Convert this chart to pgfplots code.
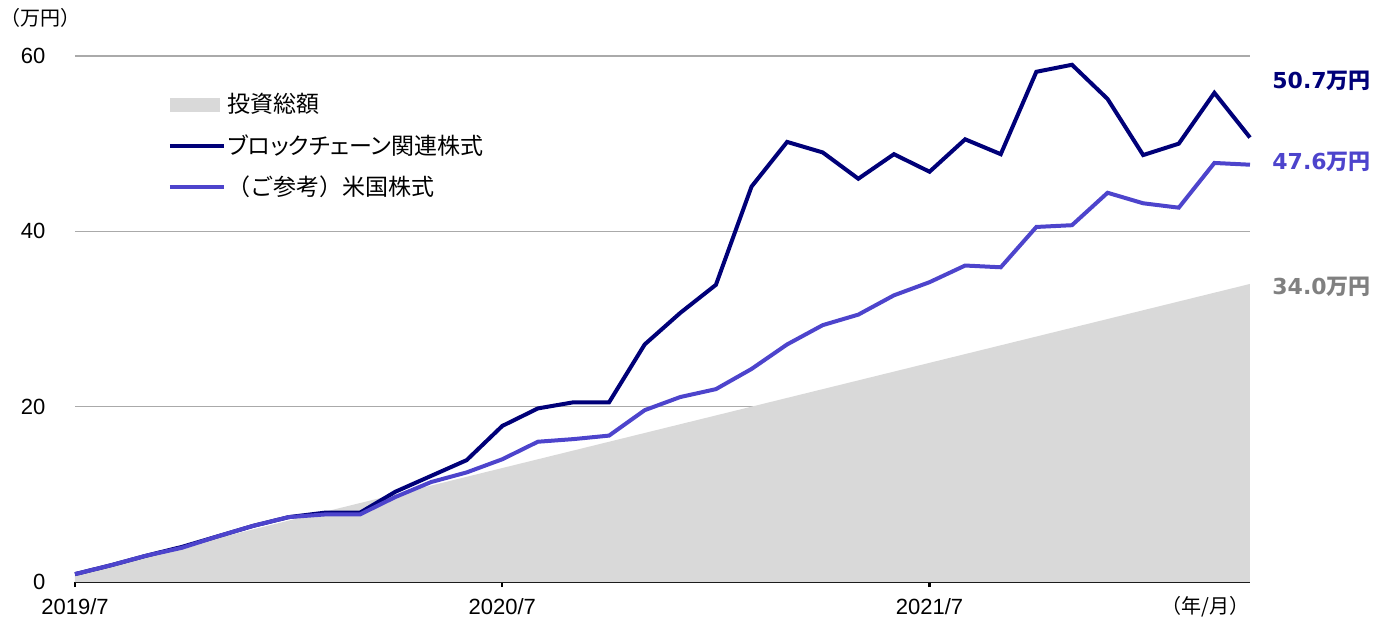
\documentclass[border=0pt]{standalone}
\usepackage{fontspec}
\setmainfont{Liberation Sans}
\newfontfamily\jp{Noto Sans CJK JP}
\newfontfamily\jpp[RawFeature=+palt]{Noto Sans CJK JP}
\newfontfamily\dv{DejaVu Sans}
\usepackage{pgfplots}
\pgfplotsset{compat=1.18}
\definecolor{navy}{RGB}{0,0,120}
\definecolor{usc}{RGB}{77,68,204}
\definecolor{areac}{RGB}{217,217,217}
\definecolor{lblgray}{RGB}{128,128,128}
\pgfplotstableread{
i inv bc us
0 1 0.9 0.9
1 2 1.9 1.9
2 3 3.0 3.0
3 4 4.0 3.9
4 5 5.2 5.2
5 6 6.4 6.4
6 7 7.4 7.4
7 8 7.9 7.7
8 9 7.9 7.7
9 10 10.3 9.7
10 11 12.1 11.4
11 12 13.9 12.5
12 13 17.8 14.0
13 14 19.8 16.0
14 15 20.5 16.3
15 16 20.5 16.7
16 17 27.1 19.6
17 18 30.7 21.1
18 19 33.9 22.0
19 20 45.1 24.3
20 21 50.2 27.1
21 22 49.0 29.3
22 23 46.0 30.5
23 24 48.8 32.7
24 25 46.8 34.2
25 26 50.5 36.1
26 27 48.8 35.9
27 28 58.2 40.5
28 29 59.0 40.7
29 30 55.1 44.4
30 31 48.7 43.2
31 32 50.0 42.7
32 33 55.8 47.8
33 34 50.7 47.6
}\datatable
\begin{document}
\begin{tikzpicture}
\useasboundingbox (-37.5pt,-20pt) rectangle (654pt,291pt);
\begin{axis}[
  at={(0,0)}, anchor=south west,
  scale only axis, width=587.5pt, height=263pt,
  xmin=0, xmax=33, ymin=0, ymax=60,
  clip=false,
  axis x line*=bottom, axis y line*=left,
  x axis line style={black, line width=1.4pt},
  y axis line style={draw=none},
  xtick={0,12,24}, xticklabels={2019/7,2020/7,2021/7},
  ytick={0,20,40,60},
  tick align=outside, major tick length=2.5pt,
  xtick style={black, line width=1.2pt},
  ytick style={draw=none},
  ymajorgrids, grid style={draw={rgb,255:red,170;green,170;blue,170}, line width=0.6pt},
  /pgf/number format/assume math mode=true,
  tick label style={font=\fontsize{11}{13}\selectfont},
  xticklabel style={yshift=-2pt},
  yticklabel style={xshift=-8.8pt},
  legend style={at={(axis cs:2.6,56.0)}, anchor=north west, draw=none, fill=none,
    inner sep=0pt, row sep=7.3pt, font=\jp\fontsize{11.5}{13.8}\selectfont,
    cells={anchor=west}, nodes={inner sep=1pt}},
]
\addplot[fill=areac, draw=none,
  legend image code/.code={\fill[areac] (0pt,-3.5pt) rectangle (25pt,3.5pt);}]
  table[x=i,y=inv]{\datatable} \closedcycle;
\addlegendentry{投資総額}
\addplot[navy, line width=2pt, line join=miter,
  legend image code/.code={\draw[navy, line width=2pt] (0pt,0pt) -- (27pt,0pt);}]
  table[x=i,y=bc]{\datatable};
\addlegendentry{\jpp ブロックチェーン関連株式}
\addplot[usc, line width=2pt, line join=miter,
  legend image code/.code={\draw[usc, line width=2pt] (0pt,0pt) -- (27pt,0pt);}]
  table[x=i,y=us]{\datatable};
\addlegendentry{（ご参考）米国株式}
\node[anchor=west, inner sep=0pt, text=navy, font=\fontsize{11}{13}\selectfont] at ([xshift=11pt]axis cs:33,57.2) {{\dv\bfseries 50.7}{\jp\bfseries 万円}};
\node[anchor=west, inner sep=0pt, text=usc, font=\fontsize{11}{13}\selectfont] at ([xshift=11pt]axis cs:33,47.9) {{\dv\bfseries 47.6}{\jp\bfseries 万円}};
\node[anchor=west, inner sep=0pt, text=lblgray, font=\fontsize{11}{13}\selectfont] at ([xshift=11pt]axis cs:33,33.7) {{\dv\bfseries 34.0}{\jp\bfseries 万円}};
\node[anchor=west, inner sep=0pt, font=\jp\fontsize{10}{12}\selectfont] at ([xshift=-37.5pt,yshift=19pt]rel axis cs:0,1) {（万円）};
\node[anchor=east, inner sep=0pt, font=\jp\fontsize{10}{12}\selectfont] at ([yshift=-12.5pt]rel axis cs:1,0) {（年/月）};
\end{axis}
\end{tikzpicture}
\end{document}
